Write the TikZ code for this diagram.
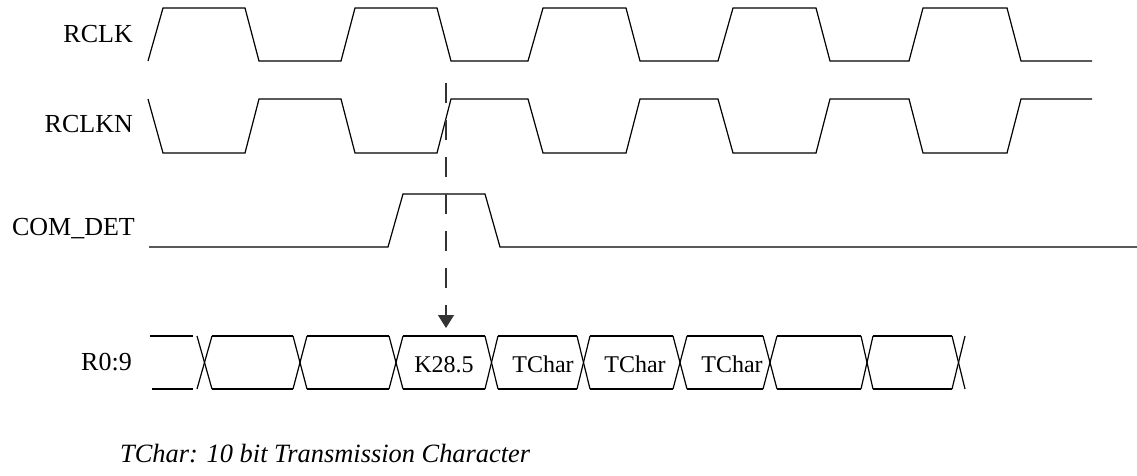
\documentclass[tikz,border=0pt]{standalone}
\usepackage{fontspec}
\setmainfont{Liberation Serif}
\usetikzlibrary{arrows.meta}
\begin{document}
\begin{tikzpicture}[x=1pt,y=-1pt,
  wave/.style={line width=1.2pt, line join=miter},
  siglabel/.style={anchor=base east, inner sep=0pt, font=\fontsize{26}{30}\selectfont},
  bustext/.style={anchor=base, inner sep=0pt, font=\fontsize{24}{28}\selectfont},
  caption/.style={anchor=base west, inner sep=0pt, font=\fontsize{26.4}{30}\selectfont\itshape},
  marker/.style={line width=1.2pt, draw=black!80, dash pattern=on 20pt off 17pt, -{Triangle[width=16pt,length=13pt]}}]
\useasboundingbox (0,0) rectangle (1137,475);

% labels
\node[siglabel] (lrclk) at (133,42) {RCLK};
\node[siglabel] (lrclkn) at (133,132) {RCLKN};
\node[siglabel] (lcom) at (135,235) {COM\_DET};
\node[siglabel] (lbus) at (132,370) {R0:9};

% RCLK
\draw[wave] (148,61) -- (163,8) -- (245,8) -- (259,61) -- (341,61) -- (355,8) -- (437,8) -- (451,61)
  -- (528,61) -- (543,8) -- (626,8) -- (640,61) -- (718,61) -- (733,8) -- (816,8) -- (830,61)
  -- (909,61) -- (923,8) -- (1007,8) -- (1021,61) -- (1092,61);

% RCLKN
\draw[wave] (148,99) -- (163,153) -- (245,153) -- (259,99) -- (341,99) -- (355,153) -- (437,153) -- (451,99)
  -- (528,99) -- (543,153) -- (626,153) -- (640,99) -- (718,99) -- (733,153) -- (816,153) -- (830,99)
  -- (909,99) -- (923,153) -- (1007,153) -- (1021,99) -- (1092,99);

% COM_DET
\draw[wave] (149,247) -- (388,247) -- (403,194) -- (485,194) -- (500,247) -- (1137,247);

% bus R0:9
\draw[wave] (150,336) -- (193,336);
\draw[wave] (152,389) -- (193,389);
\foreach \a/\b in {212/293, 307/389, 403/485, 498/577, 590/673, 687/763, 777/861, 873/952}{
  \draw[wave] (\a,336) -- (\b,336);
  \draw[wave] (\a,389) -- (\b,389);
}
\foreach \a/\b in {197/212, 293/307, 389/403, 485/498, 577/590, 673/687, 763/777, 861/873, 952/965}{
  \draw[wave] (\a,336) -- (\b,389);
  \draw[wave] (\a,389) -- (\b,336);
}

\node[bustext] (k285) at (444,372) {K28.5};
\node[bustext] (tc1) at (543,372) {TChar};
\node[bustext] (tc2) at (635,372) {TChar};
\node[bustext] (tc3) at (732,372) {TChar};

% marker arrow
\coordinate (mtop) at (446,83);
\coordinate (mtip) at (446,328);
\draw[marker] (mtop) -- (mtip);

% caption
\node[caption] (cap) at (120,462) {TChar: 10 bit Transmission Character};
\end{tikzpicture}
\end{document}
